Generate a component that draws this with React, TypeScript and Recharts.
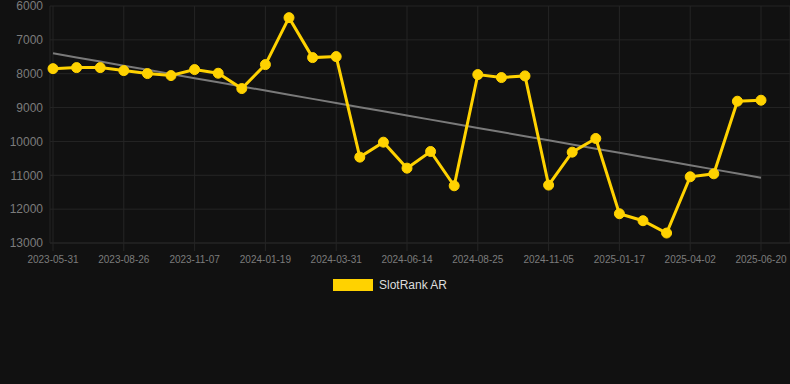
import React from "react";
import {
  LineChart,
  Line,
  XAxis,
  YAxis,
  CartesianGrid,
  Legend,
} from "recharts";

const dates: string[] = [
  "2023-05-31", "2023-06-29", "2023-07-28", "2023-08-26", "2023-09-20",
  "2023-10-14", "2023-11-07", "2023-12-01", "2023-12-25", "2024-01-19",
  "2024-02-12", "2024-03-07", "2024-03-31", "2024-04-25", "2024-05-20",
  "2024-06-14", "2024-07-08", "2024-08-01", "2024-08-25", "2024-09-18",
  "2024-10-12", "2024-11-05", "2024-11-29", "2024-12-23", "2025-01-17",
  "2025-02-10", "2025-03-08", "2025-04-02", "2025-04-28", "2025-05-24",
  "2025-06-20",
];

const ranks: number[] = [
  7850, 7820, 7820, 7908, 7996, 8055, 7878, 7986, 8439, 7731,
  6344, 7524, 7495, 10464, 10022, 10789, 10297, 11310, 8026, 8114,
  8065, 11290, 10317, 9913, 12136, 12342, 12706, 11044, 10956, 8812,
  8783,
];

const yTicks: number[] = [6000, 7000, 8000, 9000, 10000, 11000, 12000, 13000];

const seriesName = "SlotRank AR";

// least-squares trend line computed from the series
const n = ranks.length;
const meanX = (n - 1) / 2;
const meanY = ranks.reduce((a, b) => a + b, 0) / n;
let sxy = 0;
let sxx = 0;
ranks.forEach((v, i) => {
  sxy += (i - meanX) * (v - meanY);
  sxx += (i - meanX) * (i - meanX);
});
const slope = sxy / sxx;
const intercept = meanY - slope * meanX;

const data = dates.map((d, i) => ({
  date: d,
  rank: ranks[i],
  trend: intercept + slope * i,
}));

const YELLOW = "#FFD200";
const GRID = "#252525";
const TICK = "#7c7c7c";
const FONT = "'Liberation Sans', Arial, Helvetica, sans-serif";

const LegendContent = () => (
  <div style={{ display: "flex", alignItems: "center", marginLeft: 333, fontFamily: FONT }}>
    <div style={{ width: 40, height: 12, background: YELLOW }} />
    <span style={{ marginLeft: 6, fontSize: 12, color: "#dddddd" }}>{seriesName}</span>
  </div>
);

export default function App() {
  return (
    <div
      style={{
        position: "absolute",
        left: 0,
        top: 0,
        width: 790,
        height: 384,
        background: "#111111",
        fontFamily: FONT,
      }}
    >
      <LineChart
        width={790}
        height={384}
        data={data}
        margin={{ top: 6, right: 0, left: 0, bottom: 111 }}
      >
        <CartesianGrid stroke={GRID} strokeWidth={1} />
        <XAxis
          dataKey="date"
          interval={2}
          height={30}
          padding={{ left: 3, right: 29 }}
          tick={{ fill: TICK, fontSize: 10, fontFamily: FONT }}
          tickLine={{ stroke: GRID }}
          tickSize={8}
          tickMargin={5}
          axisLine={{ stroke: GRID }}
        />
        <YAxis
          width={50}
          reversed
          domain={[6000, 13000]}
          ticks={yTicks}
          interval={0}
          tick={{ fill: TICK, fontSize: 12, fontFamily: FONT }}
          tickLine={false}
          axisLine={false}
          tickSize={0}
          tickMargin={7}
        />
        <Line
          dataKey="trend"
          stroke="#7a7a7a"
          strokeWidth={2}
          dot={false}
          activeDot={false}
          legendType="none"
          isAnimationActive={false}
        />
        <Line
          dataKey="rank"
          name={seriesName}
          stroke={YELLOW}
          strokeWidth={3}
          dot={{ r: 5, fill: YELLOW, stroke: YELLOW, strokeWidth: 1 }}
          isAnimationActive={false}
        />
        <Legend
          verticalAlign="middle"
          layout="horizontal"
          content={<LegendContent />}
          wrapperStyle={{ top: 278, left: 0, width: 790, height: 14 }}
        />
      </LineChart>
    </div>
  );
}
